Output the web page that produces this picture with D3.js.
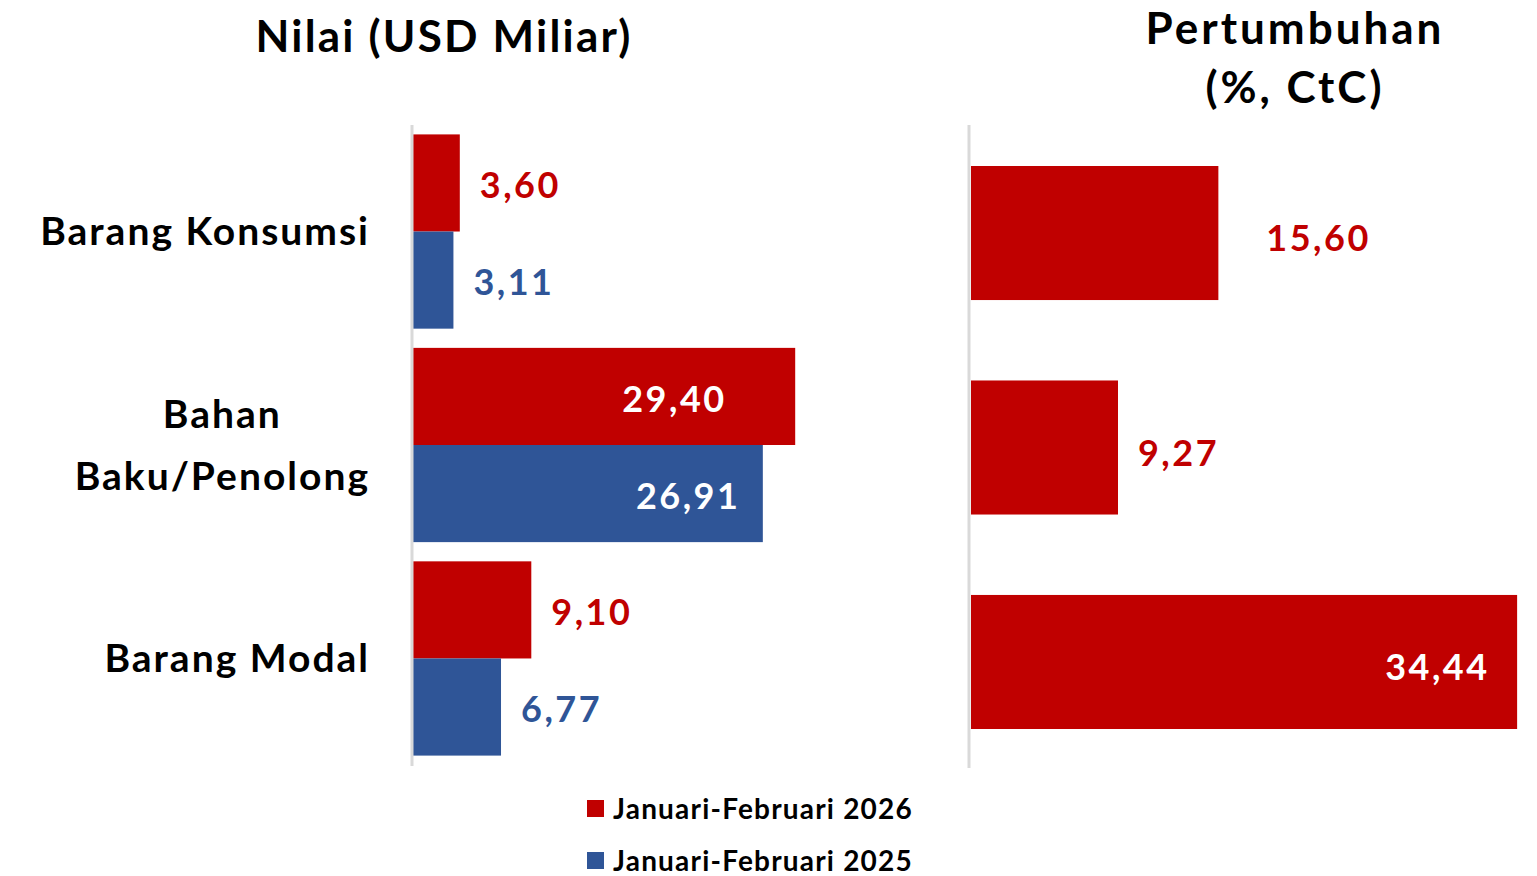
<!DOCTYPE html>
<html>
<head>
<meta charset="utf-8">
<script src="https://cdn.jsdelivr.net/npm/d3@7"></script>
<style>
  html, body { margin: 0; padding: 0; background: #fff; }
  svg { display: block; font-family: "Lato", "Open Sans", sans-serif; font-weight: bold; }
</style>
</head>
<body>
<div id="chart"></div>
<script>
const categories = [["Barang Konsumsi"], ["Bahan", "Baku/Penolong"], ["Barang Modal"]];
const value2026 = [3.60, 29.40, 9.10];
const value2025 = [3.11, 26.91, 6.77];
const growth = [15.60, 9.27, 34.44];
const seriesNames = ["Januari-Februari 2026", "Januari-Februari 2025"];

const width = 1537, height = 876;
const red = "#c00000", blue = "#2f5597";
const fmt = v => v.toFixed(2).replace(".", ",");
const valSpace = 2.5;

const svg = d3.select("#chart").append("svg")
    .attr("width", width).attr("height", height);

const keys = categories.map((c, i) => i);

// left panel
const yL = d3.scaleBand().domain(keys).range([128, 762]).paddingInner(0.09).paddingOuter(0.03);
const sub = d3.scaleBand().domain([0, 1]).range([0, yL.bandwidth()]);
const xL = d3.scaleLinear().domain([0, 40]).range([413, 933]);

const series = [
    {vals: value2026, color: red, inset: 71},
    {vals: value2025, color: blue, inset: 25}
];

series.forEach((s, si) => {
    svg.append("g").selectAll("rect")
        .data(s.vals)
        .enter()
        .append("rect")
        .attr("x", xL(0))
        .attr("y", (d, i) => yL(i) + sub(si))
        .attr("width", d => xL(d) - xL(0))
        .attr("height", sub.bandwidth())
        .attr("fill", s.color);

    svg.append("g").selectAll("text")
        .data(s.vals)
        .enter()
        .append("text")
        .attr("x", d => d > 20 ? xL(d) - s.inset + valSpace : xL(d) + 20)
        .attr("y", (d, i) => yL(i) + sub(si) + sub.bandwidth() / 2)
        .attr("dy", "0.42em")
        .attr("text-anchor", d => d > 20 ? "end" : "start")
        .attr("fill", d => d > 20 ? "#fff" : s.color)
        .style("font-size", "36px")
        .style("letter-spacing", valSpace + "px")
        .text(d => fmt(d));
});

svg.append("line")
    .attr("x1", 412).attr("x2", 412)
    .attr("y1", 125).attr("y2", 766)
    .attr("stroke", "#d9d9d9").attr("stroke-width", 3);

// category labels
const catG = svg.append("g");
categories.forEach((lines, i) => {
    const cy = yL(i) + yL.bandwidth() / 2;
    const t = catG.append("text")
        .attr("text-anchor", "end")
        .style("font-size", "39px")
        .style("letter-spacing", "2px")
        .attr("fill", "#000");
    const lh = 62;
    lines.forEach((ln, j) => {
        t.append("tspan")
            .attr("x", 370)
            .attr("y", cy + (j - (lines.length - 1) / 2) * lh)
            .attr("dy", "0.35em")
            .text(ln);
    });
});
// center multi-line labels on their longest line
catG.selectAll("text").each(function() {
    const tspans = d3.select(this).selectAll("tspan");
    if (tspans.size() < 2) return;
    const widths = tspans.nodes().map(n => n.getComputedTextLength());
    const maxW = d3.max(widths);
    d3.select(this).attr("text-anchor", "middle");
    tspans.attr("x", 370 - maxW / 2);
});

// right panel
const yR = d3.scaleBand().domain(keys).range([166, 729]).paddingInner(0.375).paddingOuter(0);
const xR = d3.scaleLinear().domain([0, 35]).range([971, 1526]);

svg.append("g").selectAll("rect")
    .data(growth)
    .enter()
    .append("rect")
    .attr("x", xR(0))
    .attr("y", (d, i) => yR(i))
    .attr("width", d => xR(d) - xR(0))
    .attr("height", yR.bandwidth())
    .attr("fill", red);

svg.append("g").selectAll("text")
    .data(growth)
    .enter()
    .append("text")
    .attr("x", d => d > 30 ? xR(d) - 30 + valSpace : xR(d) + (d > 12 ? 48 : 20))
    .attr("y", (d, i) => yR(i) + yR.bandwidth() / 2)
    .attr("dy", "0.5em")
    .attr("text-anchor", d => d > 30 ? "end" : "start")
    .attr("fill", d => d > 30 ? "#fff" : red)
    .style("font-size", "36px")
    .style("letter-spacing", valSpace + "px")
    .text(d => fmt(d));

svg.append("line")
    .attr("x1", 969).attr("x2", 969)
    .attr("y1", 125).attr("y2", 768)
    .attr("stroke", "#d9d9d9").attr("stroke-width", 3);

// titles
const title = (x, y, txt, sp) => svg.append("text")
    .attr("x", x).attr("y", y)
    .attr("text-anchor", "middle")
    .style("font-size", "44px")
    .style("letter-spacing", sp + "px")
    .text(txt);

title(444, 52, "Nilai (USD Miliar)", 2.2);
title(1295, 44, "Pertumbuhan", 3);
title(1295, 103, "(%, CtC)", 3);

// legend
const legend = svg.append("g");
seriesNames.forEach((name, i) => {
    const ly = 800 + i * 52;
    legend.append("rect")
        .attr("x", 587).attr("y", ly)
        .attr("width", 17).attr("height", 17)
        .attr("fill", i === 0 ? red : blue);
    legend.append("text")
        .attr("x", 613).attr("y", ly + 8.5)
        .attr("dy", "0.36em")
        .style("font-size", "28px")
        .style("letter-spacing", "1.2px")
        .text(name);
});
</script>
</body>
</html>
